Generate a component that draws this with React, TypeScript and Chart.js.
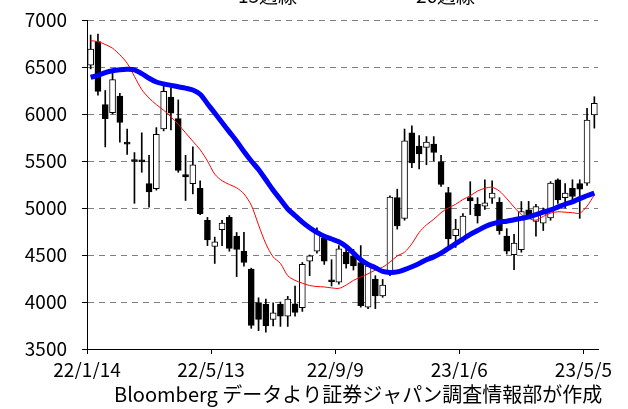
import { useEffect, useRef } from "react";
import { Chart, registerables } from "chart.js";

Chart.register(...registerables);

// Weekly candles from 22/1/14 to the latest week (70 weeks)
const tickWeeks = [0, 17, 34, 51, 68];
const tickDates = ["22/1/14", "22/5/13", "22/9/9", "23/1/6", "23/5/5"];

const opens = [
  6520, 6770, 6100, 6015, 6190, 5700, 5515, 5505, 5260, 5205,
  5840, 6180, 5950, 5355, 5260, 5210, 4870, 4590, 4770, 4900,
  4700, 4540, 4350, 3995, 3975, 3815, 3975, 3850, 3980, 3940,
  4435, 4540, 4680, 4235, 4210, 4530, 4490, 4420, 3945, 4245,
  4065, 4300, 5110, 4890, 5800, 5660, 5645, 5680, 5495, 5165,
  4705, 4670, 5110, 5040, 5020, 5105, 5060, 4700, 4503, 4556,
  4980, 4857, 4838, 4895, 5300, 5110, 5210, 5260, 5264, 5990,
];
const highs = [
  6840, 6850, 6250, 6470, 6220, 5840, 5590, 5800, 5560, 5855,
  6310, 6280, 6150, 5560, 5650, 5290, 4900, 4690, 4870, 4920,
  4740, 4740, 4360, 4045, 4030, 3990, 4000, 4060, 4170, 4420,
  4500, 4790, 4700, 4450, 4600, 4600, 4560, 4600, 4420, 4280,
  4240, 5130, 5200, 5840, 5873, 5770, 5760, 5760, 5560, 5220,
  4880, 4940, 5280, 5110, 5300, 5290, 5110, 4780, 4720, 5069,
  5070, 5040, 5000, 5280, 5310, 5260, 5300, 5300, 6060, 6184,
];
const lows = [
  6480, 6200, 5650, 6000, 5700, 5570, 5050, 5380, 5010, 5190,
  5820, 5830, 5380, 5080, 5150, 4930, 4600, 4410, 4600, 4540,
  4270, 4380, 3720, 3695, 3680, 3745, 3740, 3740, 3850, 3900,
  4280, 4520, 4400, 4170, 4190, 4360, 4340, 3945, 3930, 3930,
  4050, 4280, 4775, 4870, 5430, 5415, 5460, 5500, 5230, 4560,
  4580, 4640, 4930, 4840, 4985, 5050, 4720, 4510, 4343, 4530,
  4910, 4700, 4760, 4870, 5050, 5000, 5050, 4890, 5240, 5850,
];
const closes = [
  6690, 6240, 5950, 6365, 5910, 5680, 5495, 5490, 5170, 5785,
  6240, 6010, 5400, 5330, 5460, 4940, 4660, 4640, 4840, 4570,
  4560, 4420, 3750, 3815, 3745, 3885, 3850, 4030, 3890, 4400,
  4490, 4735, 4435, 4215, 4565, 4405, 4385, 3960, 4385, 4065,
  4180, 5115, 4810, 5715, 5480, 5575, 5700, 5590, 5250, 4670,
  4775, 4915, 5075, 4915, 5055, 5160, 4755, 4540, 4626, 4963,
  4927, 5016, 4945, 5264, 5087, 5160, 5122, 5200, 5936, 6113,
];

// 13-week moving average (red)
const ma13 = [
  6780, 6770, 6740, 6700, 6630, 6540, 6400, 6260, 6170, 6100,
  6040, 5970, 5890, 5800, 5710, 5620, 5500, 5360, 5290, 5250,
  5215, 5150, 5030, 4820, 4620, 4480, 4410, 4280, 4230, 4200,
  4175, 4165, 4160, 4150, 4145, 4180, 4230, 4265, 4300, 4340,
  4370, 4425, 4490, 4530, 4620, 4740, 4820, 4880, 4950, 5000,
  5040, 5090, 5130, 5180, 5210, 5220, 5180, 5100, 5010, 4930,
  4890, 4870, 4910, 4945, 4960, 4955, 4950, 4945, 5020, 5140,
];
// 26-week moving average (blue)
const ma26 = [
  6390, 6410, 6440, 6460, 6470, 6475, 6470, 6430, 6380, 6340,
  6320, 6305, 6290, 6275, 6255, 6210, 6110, 6010, 5910, 5810,
  5710, 5600, 5500, 5410, 5300, 5190, 5090, 4990, 4920, 4850,
  4790, 4740, 4700, 4670, 4640, 4590, 4520, 4450, 4400, 4365,
  4325, 4315, 4320, 4345, 4375, 4410, 4450, 4480, 4520, 4570,
  4620, 4670, 4720, 4760, 4800, 4830, 4850, 4860, 4875, 4890,
  4905, 4930, 4955, 4980, 5010, 5040, 5065, 5100, 5130, 5160,
];

const legendLabels = ["13週線", "26週線"];
const sourceNote = "Bloomberg データより証券ジャパン調査情報部が作成";

const FONT = "'Noto Sans CJK JP', 'Noto Sans', sans-serif";

const overlayPlugin = {
  id: "overlayText",
  afterDraw(chart: any) {
    const ctx = chart.ctx as CanvasRenderingContext2D;
    ctx.save();
    // legend (top, mostly cut off by the page edge)
    ctx.lineCap = "butt";
    ctx.strokeStyle = "#ff0000";
    ctx.lineWidth = 1;
    ctx.beginPath();
    ctx.moveTo(180, 8);
    ctx.lineTo(232, 8);
    ctx.stroke();
    ctx.strokeStyle = "#0000ff";
    ctx.lineWidth = 5;
    ctx.beginPath();
    ctx.moveTo(356, 9);
    ctx.lineTo(410, 9);
    ctx.stroke();
    ctx.fillStyle = "#000";
    ctx.font = `19px ${FONT}`;
    ctx.textBaseline = "alphabetic";
    ctx.textAlign = "left";
    ctx.fillText(legendLabels[0], 238, 15);
    ctx.fillText(legendLabels[1], 416, 15);
    // source note
    ctx.font = `20px ${FONT}`;
    ctx.fillText(sourceNote, 114, 414);
    ctx.restore();
  },
};

export default function App() {
  const ref = useRef<HTMLCanvasElement | null>(null);

  useEffect(() => {
    if (!ref.current) return;
    const wicks = opens.map((_, i) => ({ x: i + 0.5, y: [lows[i], highs[i]] }));
    const bodies = opens.map((o, i) => ({ x: i + 0.5, y: [o, closes[i]] }));
    const bodyFill = opens.map((o, i) => (closes[i] >= o ? "#ffffff" : "#000000"));

    const chart = new Chart(ref.current, {
      type: "bar",
      data: {
        datasets: [
          {
            type: "line",
            label: legendLabels[1],
            data: ma26.map((v, i) => ({ x: i + 0.5, y: v })),
            borderColor: "#0000ff",
            borderWidth: 5,
            pointRadius: 0,
            tension: 0.3,
            order: 0,
          } as any,
          {
            type: "line",
            label: legendLabels[0],
            data: ma13.map((v, i) => ({ x: i + 0.5, y: v })),
            borderColor: "#ff0000",
            borderWidth: 1,
            pointRadius: 0,
            tension: 0.3,
            order: 1,
          } as any,
          {
            type: "bar",
            label: "body",
            data: bodies,
            backgroundColor: bodyFill,
            borderColor: "#000",
            borderWidth: 1,
            borderSkipped: false,
            barThickness: 6,
            minBarLength: 2,
            grouped: false,
            order: 2,
          } as any,
          {
            type: "bar",
            label: "wick",
            data: wicks,
            backgroundColor: "#000",
            borderWidth: 0,
            barThickness: 1,
            grouped: false,
            order: 3,
          } as any,
        ],
      },
      options: {
        animation: false,
        responsive: true,
        maintainAspectRatio: false,
        layout: { padding: { top: 32, right: 30, bottom: 30, left: 0 } },
        plugins: {
          legend: { display: false },
          tooltip: { enabled: false },
          title: { display: false },
        },
        scales: {
          x: {
            type: "linear",
            min: 0,
            max: 70,
            offset: false,
            afterFit: (s: any) => {
              s.height = 30;
            },
            afterBuildTicks: (s: any) => {
              s.ticks = tickWeeks.map((v) => ({ value: v }));
            },
            grid: {
              offset: false,
              drawOnChartArea: false,
              drawTicks: true,
              tickLength: 5,
              tickColor: "#000",
              color: "#000",
            },
            border: { display: true, color: "#000", width: 1 },
            ticks: {
              autoSkip: false,
              maxRotation: 0,
              padding: 4,
              color: "#000",
              font: { family: FONT, size: 19 },
              callback: (v: any) => {
                const k = tickWeeks.indexOf(Number(v));
                return k >= 0 ? tickDates[k] : "";
              },
            },
          } as any,
          y: {
            type: "linear",
            min: 3500,
            max: 7000,
            afterFit: (s: any) => {
              s.width = 87;
            },
            grid: {
              color: (c: any) => (c.tick && c.tick.value === 3500 ? "rgba(0,0,0,0)" : "#808080"),
              tickColor: "#000",
              tickLength: 5,
              tickBorderDash: [],
            },
            border: { display: true, color: "#000", width: 1, dash: [6, 5] },
            ticks: {
              stepSize: 500,
              padding: 15,
              color: "#000",
              font: { family: FONT, size: 19 },
              callback: (v: any) => String(v),
            },
          } as any,
        },
      },
      plugins: [overlayPlugin],
    });
    return () => chart.destroy();
  }, []);

  return (
    <div style={{ position: "absolute", left: 0, top: -12, width: 628, height: 421 }}>
      <canvas ref={ref} />
    </div>
  );
}
